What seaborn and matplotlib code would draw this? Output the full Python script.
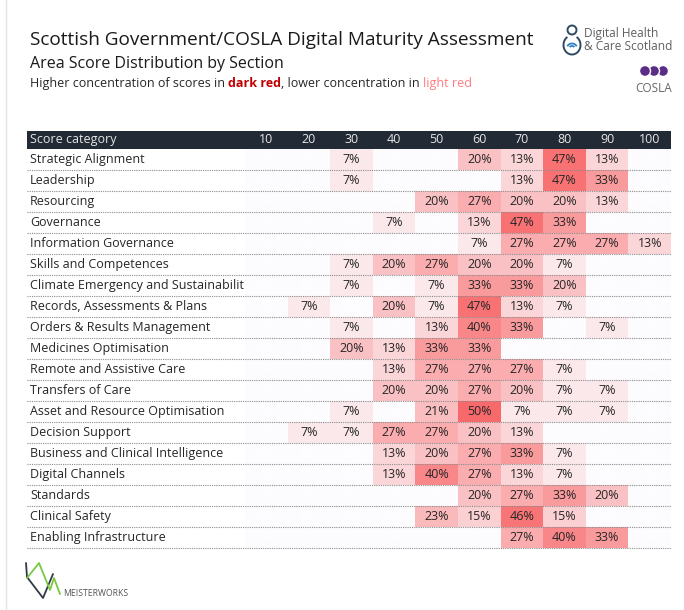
import numpy as np
import pandas as pd
import seaborn as sns
import matplotlib.pyplot as plt
import matplotlib.transforms as mtransforms
from matplotlib.colors import LinearSegmentedColormap
from matplotlib.patches import Rectangle, Circle, Arc
from matplotlib.lines import Line2D

# ---- data ----
sections = [
    "Strategic Alignment", "Leadership", "Resourcing", "Governance",
    "Information Governance", "Skills and Competences",
    "Climate Emergency and Sustainability", "Records, Assessments & Plans",
    "Orders & Results Management", "Medicines Optimisation",
    "Remote and Assistive Care", "Transfers of Care",
    "Asset and Resource Optimisation", "Decision Support",
    "Business and Clinical Intelligence", "Digital Channels", "Standards",
    "Clinical Safety", "Enabling Infrastructure",
]
scores = [10, 20, 30, 40, 50, 60, 70, 80, 90, 100]

strategic_alignment = [0, 0, 7, 0, 0, 20, 13, 47, 13, 0]
leadership = [0, 0, 7, 0, 0, 0, 13, 47, 33, 0]
resourcing = [0, 0, 0, 0, 20, 27, 20, 20, 13, 0]
governance = [0, 0, 0, 7, 0, 13, 47, 33, 0, 0]
information_governance = [0, 0, 0, 0, 0, 7, 27, 27, 27, 13]
skills = [0, 0, 7, 20, 27, 20, 20, 7, 0, 0]
climate = [0, 0, 7, 0, 7, 33, 33, 20, 0, 0]
records = [0, 7, 0, 20, 7, 47, 13, 7, 0, 0]
orders = [0, 0, 7, 0, 13, 40, 33, 0, 7, 0]
medicines = [0, 0, 20, 13, 33, 33, 0, 0, 0, 0]
remote_care = [0, 0, 0, 13, 27, 27, 27, 7, 0, 0]
transfers = [0, 0, 0, 20, 20, 27, 20, 7, 7, 0]
asset = [0, 0, 7, 0, 21, 50, 7, 7, 7, 0]
decision = [0, 7, 7, 27, 27, 20, 13, 0, 0, 0]
business = [0, 0, 0, 13, 20, 27, 33, 7, 0, 0]
digital_channels = [0, 0, 0, 13, 40, 27, 13, 7, 0, 0]
standards = [0, 0, 0, 0, 0, 20, 27, 33, 20, 0]
clinical_safety = [0, 0, 0, 0, 23, 15, 46, 15, 0, 0]
enabling = [0, 0, 0, 0, 0, 0, 27, 40, 33, 0]

rows = [strategic_alignment, leadership, resourcing, governance,
        information_governance, skills, climate, records, orders, medicines,
        remote_care, transfers, asset, decision, business, digital_channels,
        standards, clinical_safety, enabling]
df = pd.DataFrame(rows, index=sections, columns=scores)

# ---- figure ----
sns.set_theme(style="white")
plt.rcParams['font.family'] = ['Open Sans', 'DejaVu Sans']

W, H = 684, 610
fig = plt.figure(figsize=(W / 100, H / 100), dpi=100)
# pixel coords of the reference, y downwards
px = mtransforms.Affine2D().scale(1 / W, -1 / H).translate(0, 1) + fig.transFigure


def fx(x):
    return x / W


def fy(y):
    return 1 - y / H


ax = fig.add_axes([fx(245), fy(548), 426 / W, 399 / H])
cmap = LinearSegmentedColormap.from_list("xl_red", ["#fcfcff", "#f8696b"])
labels = df.map(lambda v: f"{v}%")
sns.heatmap(df, ax=ax, cmap=cmap, vmin=0, vmax=50, cbar=False,
            annot=labels, fmt="", annot_kws={"fontsize": 9},
            xticklabels=scores, yticklabels=False)
for t, v in zip(ax.texts, df.values.ravel()):
    t.set_color("white" if v == 0 else "#262626")

ax.xaxis.tick_top()
ax.tick_params(axis="x", length=0, pad=2.5, labelsize=9, labelcolor="#e6e6e6",
               rotation=0)
ax.tick_params(axis="y", length=0)
ax.set_xlabel("")
ax.set_ylabel("")

# header bar
fig.add_artist(Rectangle((27, 131), 644, 18, transform=px,
                         facecolor="#222a35", edgecolor="none", zorder=0))
fig.text(30, 140, "Score category", transform=px, va="center", ha="left",
         fontsize=9, color="#e6e6e6")

# row labels, clipped at the heatmap edge
blend = mtransforms.blended_transform_factory(fig.transFigure, ax.transData)
clip = mtransforms.TransformedBbox(
    mtransforms.Bbox.from_extents(0, 0, fx(244), 1), fig.transFigure)
for i, name in enumerate(sections):
    t = fig.text(fx(30), i + 0.5, name, transform=blend, va="center",
                 ha="left", fontsize=9, color="#262626")
    t.set_clip_box(clip)
    t.set_clip_on(True)

# dotted row separators
for i in range(1, len(sections) + 1):
    fig.add_artist(Line2D([fx(27), fx(671)], [i, i], transform=blend,
                          color="#8c8c8c", lw=0.8, ls=(0, (1, 1)), zorder=3))

# titles
fig.text(30, 45, "Scottish Government/COSLA Digital Maturity Assessment",
         transform=px, fontsize=13.7, color="#1a1a1a", va="baseline")
fig.text(30, 68, "Area Score Distribution by Section", transform=px,
         fontsize=11.5, color="#1a1a1a", va="baseline")

renderer = fig.canvas.get_renderer()
parts = [("Higher concentration of scores in ", "#262626", "normal"),
         ("dark red", "#c00000", "bold"),
         (", lower concentration in ", "#262626", "normal"),
         ("light red", "#ff7c80", "normal")]
x = fx(30)
for s, c, w in parts:
    t = fig.text(x, fy(87), s, fontsize=9, color=c, fontweight=w,
                 va="baseline")
    bb = t.get_window_extent(renderer)
    x = fig.transFigure.inverted().transform((bb.x1, 0))[0]

# left border
fig.add_artist(Line2D([6, 6], [0, 610], transform=px, color="#e3e3e3", lw=1))

# Digital Health & Care Scotland logo
fig.add_artist(Circle((572, 30), 4.5, transform=px, fill=False,
                      edgecolor="#2e4a66", lw=1.4))
fig.add_artist(Arc((572, 45), 17, 19, theta1=300, theta2=240,
                   transform=px, edgecolor="#2e4a66", lw=1.4))
fig.add_artist(Arc((572, 48), 10, 9, theta1=200, theta2=340, transform=px,
                   edgecolor="#2f80c4", lw=1.3))
fig.add_artist(Arc((572, 48), 5, 4, theta1=200, theta2=340, transform=px,
                   edgecolor="#2f80c4", lw=1.3))
fig.text(584, 34, "Digital Health", transform=px, fontsize=8.6,
         color="#606060", va="center")
fig.text(584, 46, "& Care Scotland", transform=px, fontsize=8.6,
         color="#606060", va="center")

# COSLA logo
for cx in [663, 654, 645]:
    fig.add_artist(Circle((cx, 71), 5.5, transform=px, facecolor="#5b2d86",
                          edgecolor="white", lw=1))
fig.text(654, 88, "COSLA", transform=px, fontsize=8.5, color="#666666",
         ha="center", va="center")

# Meisterworks logo
fig.add_artist(Line2D([26, 27, 43, 53], [563, 577, 598, 574], transform=px,
                      color="#333a45", lw=1.3))
fig.add_artist(Line2D([27, 39, 50, 54, 60], [578, 563, 590, 578, 594],
                      transform=px, color="#7ac943", lw=1.3))
fig.text(63, 596, "MEISTERWORKS", transform=px, fontsize=6.2,
         color="#555555", va="baseline")

fig.savefig("out.png", dpi=100)
